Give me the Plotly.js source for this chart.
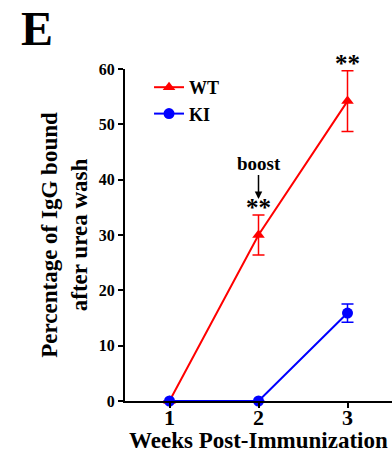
<!DOCTYPE html>
<html><head><meta charset="utf-8">
<script src="https://cdn.plot.ly/plotly-3.0.1.min.js"></script>
<style>html,body{margin:0;padding:0;background:#fff}#chart{width:392px;height:453px}</style>
</head><body><div id="chart"></div>
<script>
var weeks = [1, 2, 3];
var tickLabels = ["1", "2", "3"];
var wtMean = [0, 30.0, 54.2];
var wtErr = [0, 3.6, 5.5];
var kiMean = [0, 0, 15.9];
var kiErr = [0, 0, 1.65];
var sigLabels = ["", "**", "**"];

var F = "Liberation Serif, Times New Roman, serif";
var traces = [
  {x: weeks, y: wtMean, name: "WT", type: "scatter", mode: "lines+markers",
   line: {color: "#ff0000", width: 2}, marker: {symbol: "triangle-up", size: 11, color: "#ff0000"},
   error_y: {type: "data", array: wtErr, visible: true, color: "#ff0000", thickness: 1.5, width: 6},
   cliponaxis: false},
  {x: weeks, y: kiMean, name: "KI", type: "scatter", mode: "lines+markers",
   line: {color: "#0000ff", width: 2}, marker: {symbol: "circle", size: 11, color: "#0000ff"},
   error_y: {type: "data", array: kiErr, visible: true, color: "#0000ff", thickness: 1.5, width: 6},
   cliponaxis: false}
];

var annotations = [
  {xref: "paper", yref: "paper", x: -0.397, y: 1.036, text: "<b>E</b>", showarrow: false,
   font: {family: F, size: 48, color: "#000"}, xanchor: "left", yanchor: "bottom"},
  {xref: "paper", yref: "paper", x: 0.5, y: -0.1175, text: "<b>Weeks Post-Immunization</b>", showarrow: false,
   font: {family: F, size: 23, color: "#000"}, xanchor: "center", yanchor: "middle"}
];
weeks.forEach(function(w, i){
  if (sigLabels[i]) {
    annotations.push({x: w, y: wtMean[i] + wtErr[i], text: "<b>" + sigLabels[i] + "</b>", showarrow: false,
      yanchor: "bottom", yshift: -8, font: {family: F, size: 25, color: "#000"}});
  }
});
annotations.push({x: weeks[1], y: wtMean[1] + wtErr[1], ax: 0, ay: -36, yshift: 16,
  text: "<b>boost</b>", showarrow: true, arrowhead: 2, arrowsize: 1, arrowwidth: 1.5, arrowcolor: "#000",
  font: {family: F, size: 19, color: "#000"}});

var layout = {
  width: 392, height: 453,
  margin: {l: 125, r: 0, t: 69, b: 52},
  paper_bgcolor: "#fff", plot_bgcolor: "#fff",
  showlegend: true,
  legend: {x: 0.09, y: 1.0, xanchor: "left", yanchor: "top", bgcolor: "rgba(0,0,0,0)",
    font: {family: F, size: 18, color: "#000", weight: "bold"}, itemwidth: 30, tracegroupgap: 0},
  xaxis: {range: [0.5, 3.5], tickvals: weeks, ticktext: tickLabels, showgrid: false, zeroline: false,
    showline: true, linecolor: "#000", linewidth: 2, ticks: "outside", ticklen: 5, tickwidth: 2, tickcolor: "#000",
    ticklabelstandoff: -9,
    tickfont: {family: F, size: 22, color: "#000", weight: "bold"}},
  yaxis: {range: [0, 60], tickvals: [0, 10, 20, 30, 40, 50, 60], showgrid: false, zeroline: false,
    showline: true, linecolor: "#000", linewidth: 2, ticks: "outside", ticklen: 5, tickwidth: 2, tickcolor: "#000",
    tickfont: {family: F, size: 16, color: "#000", weight: "bold"},
    title: {text: "<b>Percentage of IgG bound<br>after urea wash</b>", font: {family: F, size: 23, color: "#000"}, standoff: 5}},
  annotations: annotations
};
Plotly.newPlot("chart", traces, layout, {displayModeBar: false, staticPlot: true});
</script></body></html>
